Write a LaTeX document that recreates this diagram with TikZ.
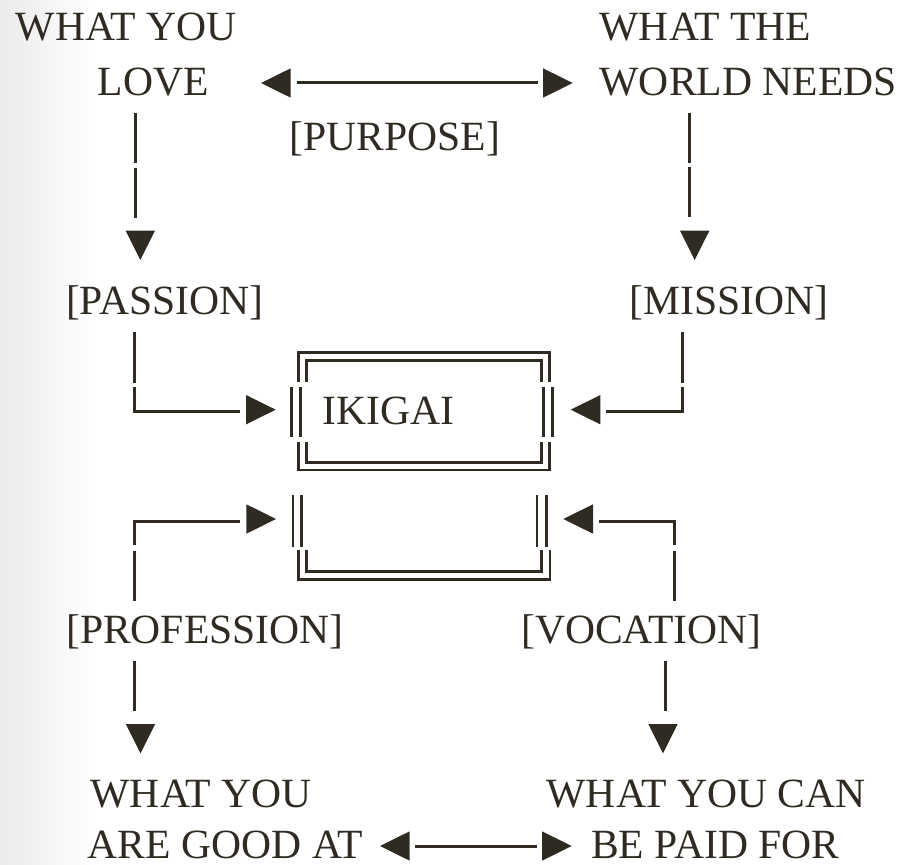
\documentclass[tikz,border=0pt]{standalone}
\usepackage{fontspec}
\setmainfont{Liberation Serif}
\definecolor{ink}{HTML}{2F2B22}
\begin{document}
\begin{tikzpicture}[x=1pt,y=-1pt,
  lbl/.style={anchor=base west, inner sep=0pt, text=ink, font=\fontsize{41.6}{49}\selectfont},
  conn/.style={draw=ink, line width=3pt},
  frame/.style={draw=ink, line width=2.8pt},
  brk/.style={dash pattern=on #1 off 4.5pt on 1000pt off 1pt},
  pics/tipdown/.style={code={\fill[ink] (0,0) -- (-14.7,-29.3) -- (14.7,-29.3) -- cycle;}},
  pics/tipright/.style={code={\fill[ink] (0,0) -- (-29.7,-14.7) -- (-29.7,14.7) -- cycle;}},
  pics/tipleft/.style={code={\fill[ink] (0,0) -- (29.7,-14.7) -- (29.7,14.7) -- cycle;}}
]
\useasboundingbox (0,0) rectangle (898,865);
\fill[white] (0,0) rectangle (898,865);
\shade[left color=black!8, right color=white] (0,0) rectangle (95,865);

% texts
\node[lbl] (wyl1) at (15.6,40.7) {WHAT YOU};
\node[lbl] (love) at (97.4,95.5) {LOVE};
\node[lbl] (wtw1) at (599.5,40.7) {WHAT THE};
\node[lbl] (world) at (599.5,95.5) {WORLD NEEDS};
\node[lbl] (purpose) at (289.5,150.3) {[PURPOSE]};
\node[lbl] (passion) at (65.8,314.7) {[PASSION]};
\node[lbl] (mission) at (629.5,314.7) {[MISSION]};
\node[lbl] (ikigai) at (322.6,424.3) {IKIGAI};
\node[lbl] (profession) at (66,643.5) {[PROFESSION]};
\node[lbl] (vocation) at (521,643.5) {[VOCATION]};
\node[lbl] (wyg1) at (90.5,807) {WHAT YOU};
\node[lbl] (good) at (87.7,858.5) {ARE GOOD AT};
\node[lbl] (wyc1) at (546.5,807) {WHAT YOU CAN};
\node[lbl] (paid) at (591,858.5) {BE PAID FOR};

% connector end points
\coordinate (loveR) at (261,82);
\coordinate (worldL) at (572.7,82);
\coordinate (loveS) at (135,113);
\coordinate (passionN) at (135,260);
\coordinate (worldS) at (689.3,112.7);
\coordinate (missionN) at (689.3,260);
\coordinate (passionS) at (134.3,331.7);
\coordinate (ikigaiW) at (275.7,411.7);
\coordinate (missionS) at (682.7,331.7);
\coordinate (ikigaiE) at (570.7,411.7);
\coordinate (professionN) at (134.3,600.7);
\coordinate (lowW) at (276,521);
\coordinate (vocationN) at (674,600.7);
\coordinate (lowE) at (563.3,521);
\coordinate (professionS) at (134.3,660.7);
\coordinate (wyg1N) at (134.3,753.3);
\coordinate (vocationS) at (665.7,660.7);
\coordinate (wyc1N) at (665.7,753.3);
\coordinate (goodE) at (380,846);
\coordinate (paidW) at (571.7,846);

% connectors (lines)
\draw[conn, shorten <=35.5pt, shorten >=34.7pt] (loveR) -- (worldL);
\draw[conn, shorten >=42pt, brk=50pt] (loveS) -- (passionN);
\draw[conn, shorten >=42.7pt, brk=50pt] (worldS) -- (missionN);
\draw[conn, shorten >=35.7pt, dash pattern=on 51pt off 4.3pt on 1000pt off 1pt] (passionS) |- (ikigaiW);
\draw[conn, shorten >=35pt, dash pattern=on 51pt off 4.3pt on 1000pt off 1pt] (missionS) |- (ikigaiE);
\draw[conn, shorten >=36pt, dash pattern=on 50pt off 5.7pt on 1000pt off 1pt] (professionN) |- (lowW);
\draw[conn, shorten >=35.7pt, dash pattern=on 50pt off 5.7pt on 1000pt off 1pt] (vocationN) |- (lowE);
\draw[conn, shorten >=42.6pt] (professionS) -- (wyg1N);
\draw[conn, shorten >=42.6pt] (vocationS) -- (wyc1N);
\draw[conn, shorten <=35pt, shorten >=35pt] (goodE) -- (paidW);

% arrowheads
\pic at ([yshift=-1pt]loveR) {tipleft};
\pic at ([yshift=-1pt]worldL) {tipright};
\pic at ([xshift=5.3pt]passionN) {tipdown};
\pic at ([xshift=5.4pt]missionN) {tipdown};
\pic at ([yshift=2pt]ikigaiW) {tipright};
\pic at ([yshift=2pt]ikigaiE) {tipleft};
\pic at ([yshift=2pt]lowW) {tipright};
\pic at ([yshift=2pt]lowE) {tipleft};
\pic at ([xshift=6.2pt]wyg1N) {tipdown};
\pic at ([xshift=-2.7pt]wyc1N) {tipdown};
\pic at (goodE) {tipleft};
\pic at (paidW) {tipright};

% IKIGAI double frame
\draw[frame] (298.3,381.7) -- (298.3,352.7) -- (549.3,352.7) -- (549.3,381.7);
\draw[frame] (306.7,381.7) -- (306.7,360.7) -- (541.7,360.7) -- (541.7,381.7);
\draw[frame] (291.7,386.7) -- (291.7,436.7);
\draw[frame] (300.7,386.7) -- (300.7,436.7);
\draw[frame] (543.3,386.7) -- (543.3,436.7);
\draw[frame] (552.7,386.7) -- (552.7,436.7);
\draw[frame] (298.3,441.7) -- (298.3,470) -- (549.3,470) -- (549.3,441.7);
\draw[frame] (306.7,441.7) -- (306.7,462.7) -- (541.7,462.7) -- (541.7,441.7);
% lower open frame
\draw[frame] (293,495) -- (293,546.7);
\draw[frame] (301.7,495) -- (301.7,546.7);
\draw[frame] (537,495) -- (537,546.7);
\draw[frame] (546.7,495) -- (546.7,546.7);
\draw[frame] (298.3,550) -- (298.3,579.3) -- (550,579.3) -- (550,550);
\draw[frame] (306.7,550) -- (306.7,571.7) -- (541.7,571.7) -- (541.7,550);
\end{tikzpicture}
\end{document}
